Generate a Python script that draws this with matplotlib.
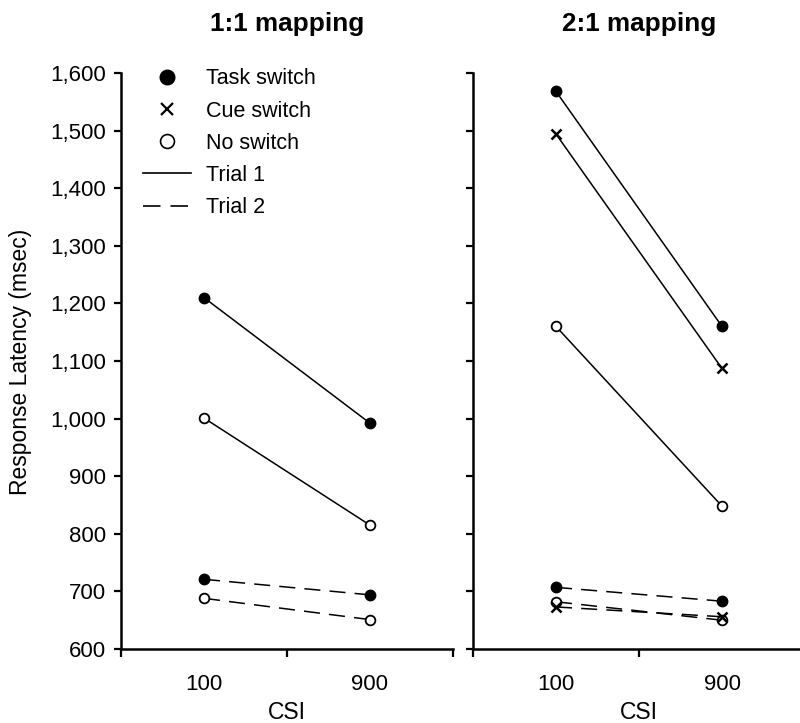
import matplotlib.pyplot as plt
import numpy as np
from matplotlib.lines import Line2D
from matplotlib.ticker import FuncFormatter

plt.rcParams['font.family'] = ['Liberation Sans', 'DejaVu Sans']

csi_labels = ['100', '900']
yticks = list(range(600, 1700, 100))

# 1:1 mapping
one_task_t1 = [1210, 992]
one_none_t1 = [1001, 815]
one_task_t2 = [721, 694]
one_none_t2 = [688, 651]

# 2:1 mapping
two_task_t1 = [1568, 1160]
two_cue_t1 = [1494, 1087]
two_none_t1 = [1160, 848]
two_task_t2 = [707, 683]
two_cue_t2 = [673, 656]
two_none_t2 = [682, 650]

fs = 16
dash = (10.5, 6)
mk = {
    'task': dict(marker='o', markersize=7.5, markerfacecolor='black', markeredgecolor='black'),
    'cue': dict(marker='x', markersize=7, markeredgewidth=1.8, markeredgecolor='black'),
    'none': dict(marker='o', markersize=7, markerfacecolor='white', markeredgecolor='black', markeredgewidth=1.3),
}

fig = plt.figure(figsize=(8, 7.23), dpi=100)
ax1 = fig.add_axes([121/800, 74/723, 332/800, 576/723])
ax2 = fig.add_axes([473/800, 74/723, 332/800, 576/723])

xpos = np.arange(len(csi_labels)) + 0.5


def draw(ax, series):
    for vals, kind, trial in series:
        ln, = ax.plot(xpos, vals, color='black', lw=1.1, clip_on=False, **mk[kind])
        if trial == 2:
            ln.set_dashes(dash)


draw(ax1, [(one_task_t1, 'task', 1), (one_none_t1, 'none', 1),
           (one_task_t2, 'task', 2), (one_none_t2, 'none', 2)])
draw(ax2, [(two_task_t1, 'task', 1), (two_cue_t1, 'cue', 1), (two_none_t1, 'none', 1),
           (two_task_t2, 'task', 2), (two_none_t2, 'none', 2), (two_cue_t2, 'cue', 2)])

for ax, title in [(ax1, '1:1 mapping'), (ax2, '2:1 mapping')]:
    ax.set_xlim(0, 2)
    ax.set_ylim(600, 1600)
    ax.set_yticks(yticks)
    ax.set_xticks([0, 1, 2])
    ax.set_xticklabels([])
    ax.set_xticks(xpos, minor=True)
    ax.set_xticklabels(csi_labels, minor=True, fontsize=fs)
    ax.tick_params(axis='x', which='minor', length=0, pad=18)
    ax.tick_params(axis='both', which='major', direction='out', width=1.6, labelsize=fs)
    ax.tick_params(axis='y', length=5, pad=6)
    ax.tick_params(axis='x', which='major', length=6)
    for s in ['top', 'right']:
        ax.spines[s].set_visible(False)
    for s in ['left', 'bottom']:
        ax.spines[s].set_linewidth(1.8)
    ax.set_xlabel('CSI', fontsize=16.5, labelpad=4)
    ax.set_title(title, fontsize=18.8, fontweight='bold', pad=30)

ax1.yaxis.set_major_formatter(FuncFormatter(lambda v, p: f'{int(v):,}'))
ax2.set_yticklabels([])

fig.text(21/800, 0.5, 'Response Latency (msec)', rotation=90, ha='center', va='center', fontsize=16.5)

handles = [
    Line2D([], [], linestyle='none', marker='o', markersize=10.5, markerfacecolor='black', markeredgecolor='black'),
    Line2D([], [], linestyle='none', marker='x', markersize=8, markeredgewidth=1.6, color='black'),
    Line2D([], [], linestyle='none', marker='o', markersize=10, markerfacecolor='white', markeredgecolor='black', markeredgewidth=1.2),
    Line2D([], [], color='black', lw=1.2),
    Line2D([], [], color='black', lw=1.2, dashes=dash),
]
labels = ['Task switch', 'Cue switch', 'No switch', 'Trial 1', 'Trial 2']
ax1.legend(handles, labels, loc='upper left', bbox_to_anchor=(0.066, 1.008), frameon=False,
           fontsize=15.5, handlelength=2.25, handletextpad=0.7, labelspacing=0.52,
           borderpad=0, borderaxespad=0)

plt.savefig('out.png', dpi=100)
